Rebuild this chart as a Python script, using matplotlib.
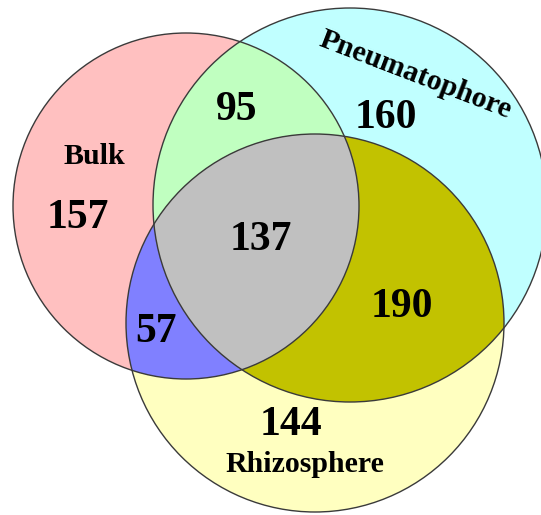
import numpy as np
import matplotlib
matplotlib.use("Agg")
import matplotlib.pyplot as plt
from matplotlib.patches import Circle, Polygon

# ---- data ----
set_names = ["Bulk", "Pneumatophore", "Rhizosphere"]
set_colors = ["#FFC0C0", "#C0FFFF", "#FFFFC0"]
# region counts
only_bulk = 157
only_pneu = 160
only_rhizo = 144
bulk_pneu = 95
bulk_rhizo = 57
pneu_rhizo = 190
all_three = 137
pair_colors = {"AB": "#C0FFC0", "AC": "#8080FF", "BC": "#C2C200"}
triple_color = "#C0C0C0"

# ---- layout (pixel coordinates) ----
centers = [(186, 206), (350, 205), (315, 323)]
radii = [173, 197, 189]

fig = plt.figure(figsize=(5.41, 5.15), dpi=100)
ax = fig.add_axes([0, 0, 1, 1])
ax.set_xlim(0, 541)
ax.set_ylim(515, 0)
ax.axis("off")


def intersection_polygon(idx, n=900):
    cs = np.array([centers[i] for i in idx], float)
    rs = np.array([radii[i] for i in idx], float)
    xs, ys = np.meshgrid(np.linspace(0, 560, 281), np.linspace(0, 540, 271))
    inside = np.ones_like(xs, bool)
    for (cx, cy), r in zip(cs, rs):
        inside &= (xs - cx) ** 2 + (ys - cy) ** 2 < r ** 2
    p = np.array([xs[inside].mean(), ys[inside].mean()])
    pts = []
    for th in np.linspace(0, 2 * np.pi, n, endpoint=False):
        d = np.array([np.cos(th), np.sin(th)])
        tmin = np.inf
        for c, r in zip(cs, rs):
            w = p - c
            b = d @ w
            cc = w @ w - r * r
            t = -b + np.sqrt(b * b - cc)
            tmin = min(tmin, t)
        pts.append(p + tmin * d)
    return np.array(pts)


for (c, r, col) in zip(centers, radii, set_colors):
    ax.add_patch(Circle(c, r, facecolor=col, edgecolor="none", zorder=1))

for key, idx in [("AB", (0, 1)), ("AC", (0, 2)), ("BC", (1, 2))]:
    ax.add_patch(Polygon(intersection_polygon(idx), closed=True,
                         facecolor=pair_colors[key], edgecolor="none", zorder=2))
ax.add_patch(Polygon(intersection_polygon((0, 1, 2)), closed=True,
                     facecolor=triple_color, edgecolor="none", zorder=3))

for (c, r) in zip(centers, radii):
    ax.add_patch(Circle(c, r, facecolor="none", edgecolor="#3A3A3A", lw=1.0, zorder=4))

font = "Liberation Serif"
num_size = 30
lab_size = 21.5

numbers = [
    (only_bulk, 78, 218),
    (bulk_pneu, 237, 110),
    (only_pneu, 386, 118),
    (all_three, 261, 240),
    (pneu_rhizo, 402, 307),
    (bulk_rhizo, 156, 332),
    (only_rhizo, 291, 425),
]
for val, x, y in numbers:
    ax.text(x, y, str(val), ha="center", va="center", fontsize=num_size,
            fontweight="bold", family=font, zorder=5)

ax.text(94, 156, set_names[0], ha="center", va="center", fontsize=lab_size,
        fontweight="bold", family=font, zorder=5)
ax.text(305, 465, set_names[2], ha="center", va="center", fontsize=lab_size,
        fontweight="bold", family=font, zorder=5)
ax.text(413, 82, set_names[1], ha="center", va="baseline", fontsize=lab_size,
        fontweight="bold", family=font, rotation=-21, rotation_mode="anchor", zorder=5)

fig.savefig("out.png", dpi=100)
